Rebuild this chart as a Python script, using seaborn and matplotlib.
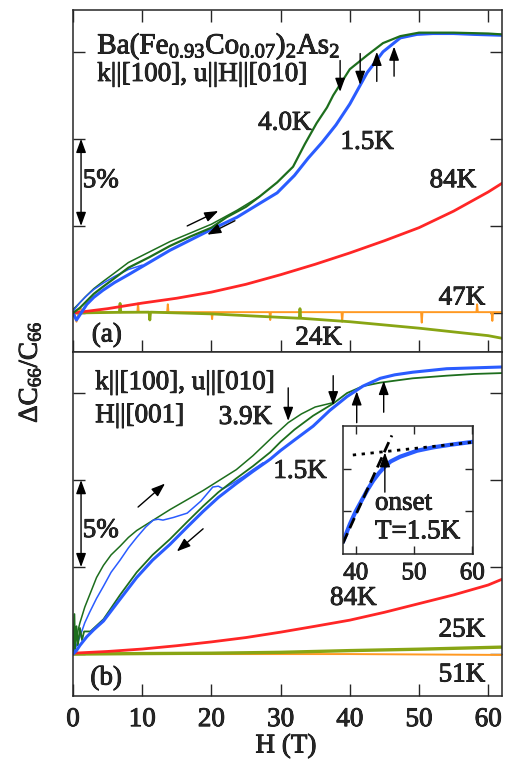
import matplotlib
matplotlib.use("Agg")
import matplotlib.pyplot as plt
import matplotlib.patheffects as pe
import pandas as pd
import seaborn as sns

# ---------- DATA ----------
# panel (a): k||[100], u||H||[010]
a_blue_dn_H = [0, 0.5, 1, 2, 3, 4.3, 6, 8, 11, 14, 17, 20, 23.7, 27, 29.5, 32, 34, 36, 38, 40, 42.5, 44.8, 47.3, 49.7, 52, 55, 58, 62]
a_blue_dn = [0, -0.4, -0.1, 0.5, 0.9, 1.3, 1.75, 2.2, 2.9, 3.6, 4.2, 4.8, 5.5, 6.3, 6.9, 7.9, 8.9, 9.8, 10.8, 12.0, 13.8, 15.0, 15.8, 16.0, 16.05, 16.05, 16.0, 15.95]
a_blue_up_H = [0, 1, 2, 3, 4.5, 6, 8, 10]
a_blue_up = [0.1, 0.6, 1.0, 1.35, 1.75, 2.1, 2.5, 2.75]
a_green_up_H = [0, 1, 1.7, 3, 4.3, 6, 8, 11, 14, 17, 20, 23.7, 27]
a_green_up = [0.2, 0.6, 0.9, 1.4, 1.8, 2.3, 2.9, 3.5, 4.1, 4.6, 5.1, 5.9, 6.7]
a_green_dn_H = [0, 1, 2, 3, 4.3, 6, 8, 11, 14, 17, 20, 22.2, 25, 27, 29.5, 31.8, 33.5, 35.2, 36.7, 37.6, 40, 42.5, 44.8, 47.3, 50, 55, 60, 62]
a_green_dn = [0, 0.3, 0.7, 1.1, 1.5, 2.0, 2.6, 3.2, 3.85, 4.4, 4.9, 5.5, 6.1, 6.7, 7.5, 8.4, 9.7, 10.9, 11.8, 12.5, 14.0, 14.8, 15.5, 15.9, 16.1, 16.1, 16.05, 16.0]
a_red_H = [0, 5, 10, 15, 20, 25, 30, 35, 40, 45, 50, 55, 60, 62]
a_red = [0, 0.25, 0.57, 0.85, 1.2, 1.65, 2.2, 2.8, 3.45, 4.15, 4.9, 5.85, 6.95, 7.45]
a_orange_H = [0, 0.5, 1, 1.5, 9.3, 9.4, 9.5, 13.6, 13.7, 13.8, 20, 20.1, 20.2, 28.4, 28.5, 28.6,
              38.8, 38.9, 39.0, 50.3, 50.4, 50.5, 58.3, 58.4, 58.5, 60.5, 60.6, 60.7, 62]
a_orange = [0.1, -0.5, 0.3, 0.05, 0.05, 0.55, 0.05, 0.05, 0.5, 0.05, 0.05, -0.35, 0.05, 0.05, -0.4, 0.05,
            0.05, -0.5, 0.05, 0.05, -0.55, 0.05, 0.05, 0.5, 0.05, 0.05, -0.45, 0.05, 0.05]
a_olive_H = [0, 6.7, 6.8, 6.9, 11.0, 11.1, 11.2, 20, 30, 32.7, 32.8, 32.9, 40, 50, 60, 62]
a_olive = [0, 0.04, 0.55, 0.04, 0.05, -0.4, 0.05, -0.05, -0.25, -0.3, 0.25, -0.3, -0.5, -0.87, -1.3, -1.45]

# panel (b): k||[100], u||[010], H||[001]
b_blue_dn_H = [0, 0.5, 1, 2, 3, 4.4, 6.5, 9.2, 11.5, 14, 16.5, 18.8, 21, 23.6, 26, 28.5, 30, 32, 34.7, 37.1, 39.6, 41.9, 44.4, 46.5, 49.1, 54, 58, 62]
b_blue_dn = [0, 0.2, 0.5, 1.0, 1.4, 1.9, 3.0, 4.4, 5.4, 6.3, 7.3, 8.2, 9.0, 9.8, 10.5, 11.2, 11.7, 12.3, 13.1, 14.0, 14.8, 15.4, 15.85, 16.05, 16.2, 16.4, 16.45, 16.5]
b_blue_up_H = [0, 0.5, 1, 1.7, 2.4, 3.4, 4.4, 5.5, 6.8, 8, 9.2, 10.5, 11.6, 12.3, 13, 14.5, 16.5, 18.5, 20.2, 21, 21.7, 23, 24.6, 26, 27.5]
b_blue_up = [0, 0.5, 1.0, 1.8, 2.4, 3.2, 3.9, 4.7, 5.4, 6.1, 6.7, 7.3, 7.7, 7.75, 7.7, 7.85, 8.1, 8.8, 9.6, 9.65, 9.5, 9.8, 10.2, 10.6, 11.0]
b_green_up_H = [0, 0.5, 1, 1.7, 2.5, 3.4, 4.4, 5.5, 6.8, 8, 9.2, 14, 18.8, 23.6, 26, 28.9, 31.1, 33, 35, 37.6]
b_green_up = [0, 1.0, 1.8, 2.7, 3.5, 4.4, 5.1, 5.7, 6.2, 6.7, 7.1, 8.3, 9.4, 10.6, 11.4, 12.5, 13.3, 13.8, 14.2, 14.45]
b_green_dn_H = [0, 0.2, 0.3, 0.5, 0.7, 1.0, 1.3, 1.6, 2.5, 4.4, 6.8, 9.2, 11.5, 14, 16.5, 18.8, 21, 23.6, 26, 28.5, 30, 32, 34.7, 37.6, 39.6, 41.9, 44.4, 49.1, 54, 58, 62]
b_green_dn = [0, 2.3, 0.3, 1.6, 0.5, 1.5, 0.8, 1.3, 1.3, 2.0, 3.4, 4.7, 5.7, 6.6, 7.6, 8.5, 9.3, 10.1, 10.8, 11.6, 12.2, 12.9, 13.7, 14.4, 15.0, 15.4, 15.6, 15.85, 16.0, 16.1, 16.15]
b_red_H = [0, 5, 10, 15, 20, 25, 30, 35, 40, 45, 50, 55, 60, 62]
b_red = [0.05, 0.15, 0.29, 0.48, 0.7, 0.95, 1.26, 1.6, 1.95, 2.4, 2.9, 3.4, 3.97, 4.3]
b_olive_H = [0, 10, 20, 30, 40, 50, 62]
b_olive = [0, 0.03, 0.05, 0.1, 0.2, 0.28, 0.4]
b_orange_H = [0, 20, 40, 62]
b_orange = [0, 0, 0, -0.05]

# inset (1.5K onset)
in_H = [37.8, 39, 40, 41, 42, 43, 44, 45, 46, 47.6, 50.5, 53.3, 56.2, 60.1]
in_blue = [0.28, 0.7, 1.0, 1.25, 1.5, 1.72, 1.9, 2.05, 2.17, 2.28, 2.42, 2.5, 2.56, 2.63]
in_dash_H = [37.8, 46.2]
in_dash = [0.25, 2.78]
in_dot_H = [39.5, 60]
in_dot = [2.32, 2.62]

# ---------- STYLE ----------
sns.set_theme(style="ticks")
plt.rcParams["font.family"] = ["Liberation Serif", "DejaVu Serif"]
plt.rcParams["mathtext.fontset"] = "custom"
plt.rcParams["mathtext.rm"] = "Liberation Serif"
plt.rcParams["mathtext.it"] = "Liberation Serif:italic"
plt.rcParams["mathtext.bf"] = "Liberation Serif:bold"
plt.rcParams["axes.linewidth"] = 1.1

BLUE = "#2a5cff"
GREEN = "#1d6e1d"
RED = "#ff2626"
ORANGE = "#ff9922"
OLIVE = "#88a514"
FS = 19.5
HEAVY = [pe.withStroke(linewidth=0.6, foreground="black")]


def line(ax, h, v, color, lw, ls="-"):
    df = pd.DataFrame({"H": h, "v": v})
    sns.lineplot(data=df, x="H", y="v", ax=ax, color=color, lw=lw, ls=ls,
                 sort=False, estimator=None)
    ax.set(xlabel="", ylabel="")


def label(ax, x, y, s, ha="center", fs=FS):
    ax.text(x, y, s, fontsize=fs, ha=ha, va="center", path_effects=HEAVY)


def arrow(ax, x0, y0, x1, y1, style="-|>", ms=15):
    ax.annotate("", xy=(x1, y1), xytext=(x0, y0),
                arrowprops=dict(arrowstyle=style + ",head_length=0.55,head_width=0.2",
                                color="black", lw=1.0, shrinkA=0, shrinkB=0,
                                mutation_scale=ms))


fig = plt.figure(figsize=(5.05, 7.59), dpi=100)
ax_a = fig.add_axes([0.1446, 0.5362, 0.8495, 0.4506])
ax_b = fig.add_axes([0.1446, 0.0830, 0.8495, 0.4532])

# ---------- PANEL (a) ----------
line(ax_a, a_orange_H, a_orange, ORANGE, 1.4)
line(ax_a, a_olive_H, a_olive, OLIVE, 2.0)
line(ax_a, a_red_H, a_red, RED, 2.0)
line(ax_a, a_green_up_H, a_green_up, GREEN, 1.1)
line(ax_a, a_blue_up_H, a_blue_up, BLUE, 1.1)
line(ax_a, a_blue_dn_H, a_blue_dn, BLUE, 2.2)
line(ax_a, a_green_dn_H, a_green_dn, GREEN, 1.6)

ax_a.set_xlim(0, 62)
ax_a.set_ylim(-2.24, 17.4)
label(ax_a, 3.5, 15.3, r"Ba(Fe$_{0.93}$Co$_{0.07}$)$_2$As$_2$", ha="left", fs=21)
label(ax_a, 3.5, 13.7, "k||[100], u||H||[010]", ha="left")
label(ax_a, 30.6, 10.9, "4.0K")
label(ax_a, 42.5, 9.8, "1.5K")
label(ax_a, 54.9, 7.6, "84K")
label(ax_a, 56.2, 0.86, "47K")
label(ax_a, 35.5, -1.44, "24K")
label(ax_a, 4.9, -1.26, "(a)")
label(ax_a, 4.0, 7.6, "5%")
arrow(ax_a, 1.16, 10, 1.16, 5, style="<|-|>")
arrow(ax_a, 16.5, 5.0, 21.0, 5.86)
arrow(ax_a, 23.4, 5.3, 19.4, 4.5)
arrow(ax_a, 38.6, 14.5, 38.6, 12.7)
arrow(ax_a, 41.5, 14.9, 41.5, 13.1)
arrow(ax_a, 43.9, 13.3, 43.9, 15.0)
arrow(ax_a, 46.4, 13.6, 46.4, 15.3)

# ---------- PANEL (b) ----------
line(ax_b, b_orange_H, b_orange, ORANGE, 1.4)
line(ax_b, b_olive_H, b_olive, OLIVE, 2.4)
line(ax_b, b_red_H, b_red, RED, 2.0)
line(ax_b, b_green_up_H, b_green_up, GREEN, 1.1)
line(ax_b, b_blue_up_H, b_blue_up, BLUE, 1.1)
line(ax_b, b_green_dn_H, b_green_dn, GREEN, 1.3)
line(ax_b, b_blue_dn_H, b_blue_dn, BLUE, 2.2)

ax_b.set_xlim(0, 62)
ax_b.set_ylim(-2.41, 17.36)
label(ax_b, 3.2, 15.6, "k||[100], u||[010]", ha="left")
label(ax_b, 3.2, 13.7, "H||[001]", ha="left")
label(ax_b, 24.9, 13.6, "3.9K")
label(ax_b, 32.8, 10.5, "1.5K")
label(ax_b, 40.5, 3.2, "84K")
label(ax_b, 56.2, 1.38, "25K")
label(ax_b, 56.2, -1.2, "51K")
label(ax_b, 4.8, -1.38, "(b)")
label(ax_b, 4.0, 7.1, "5%")
arrow(ax_b, 1.16, 10, 1.16, 5, style="<|-|>")
arrow(ax_b, 9.4, 8.45, 13.3, 9.8)
arrow(ax_b, 18.8, 7.2, 15.0, 5.9)
arrow(ax_b, 31.1, 15.3, 31.1, 13.4)
arrow(ax_b, 37.6, 16.0, 37.6, 14.3)
arrow(ax_b, 41.0, 13.3, 41.0, 15.1)
arrow(ax_b, 44.9, 13.9, 44.9, 15.7)

for ax in (ax_a, ax_b):
    ax.set_xticks(range(0, 61, 10))
    ax.set_yticks([0, 5, 10, 15])
    ax.tick_params(direction="in", length=8.5, width=1.0, right=True,
                   labelleft=False, labelsize=FS, pad=8)
ax_a.tick_params(top=True, labelbottom=False)
ax_b.tick_params(top=False)

# ---------- INSET ----------
ax_in = fig.add_axes([0.679, 0.2701, 0.2574, 0.1686])
line(ax_in, in_H, in_blue, BLUE, 3.0)
line(ax_in, in_dash_H, in_dash, "black", 2.0, ls=(0, (4, 2)))
line(ax_in, in_dot_H, in_dot, "black", 2.0, ls=(0, (1.2, 2)))
ax_in.set_xlim(37.8, 60.1)
ax_in.set_ylim(0, 3)
ax_in.set_xticks([40, 50, 60])
ax_in.set_yticks([1, 2])
ax_in.tick_params(direction="in", length=6, width=1.0, top=True, right=True,
                  labelleft=False, labelsize=18, pad=6)
arrow(ax_in, 45, 1.45, 45, 2.38, ms=16)
label(ax_in, 43.3, 1.19, "onset", ha="left")
label(ax_in, 43.3, 0.52, "T=1.5K", ha="left")

for ax in (ax_b, ax_in):
    for t in ax.get_xticklabels():
        t.set_path_effects(HEAVY)

fig.text(30 / 505, 1 - 372 / 759, r"$\Delta$C$_{66}$/C$_{66}$", fontsize=FS,
         rotation=90, ha="center", va="center", path_effects=HEAVY)
fig.text(286 / 505, 1 - 746 / 759, "H (T)", fontsize=FS, ha="center", va="center",
         path_effects=HEAVY)

fig.savefig("out.png", dpi=100)
